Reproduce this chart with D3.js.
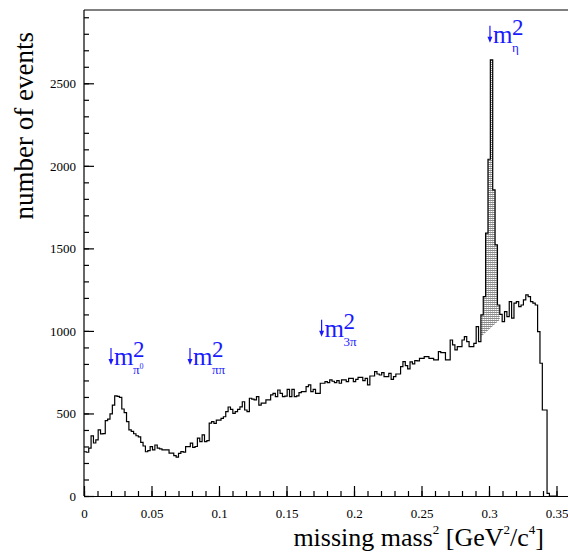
<!DOCTYPE html>
<html><head><meta charset="utf-8">
<script src="https://cdn.jsdelivr.net/npm/d3@7"></script>
<style>body{margin:0;background:#fff}svg{display:block}</style>
</head><body>
<svg id="chart" width="568" height="553"></svg>
<script>
// ---- data ----
const binWidth = 0.00175; // GeV^2/c^4
const counts = [
 268,265,290,364,321,340,400,376,378,456,466,497,551,606,603,598,527,505,450,400,392,377,365,358,325,303,268,275,299,279,309,290,285,
 279,279,279,260,260,245,236,258,269,266,299,299,320,295,300,351,329,370,329,335,442,450,440,460,460,470,480,511,539,525,501,511,525,540,571,
 521,511,592,587,582,602,551,562,562,582,582,612,622,602,642,622,602,605,646,602,646,602,606,626,632,632,662,673,632,646,622,622,683,683,
 693,687,703,695,687,699,683,703,703,693,713,713,693,707,719,719,699,713,673,727,727,753,739,733,747,723,723,743,707,723,739,739,784,814,
 790,770,812,800,820,818,
 834,834,844,844,834,834,824,824,874,868,868,824,824,945,915,885,905,905,945,965,935,905,905,925,1026,935,
 1097,1208,1592,2040,2642,1854,1521,1157,
 1100,1056,1117,1087,1177,1077,1168,1177,1147,1157,1188,1218,1208,1177,1168,1157,996,804,521,521,16,
 0,0,0
];
const xTicks = [0, 0.05, 0.1, 0.15, 0.2, 0.25, 0.3, 0.35];
const xTickLabels = ["0", "0.05", "0.1", "0.15", "0.2", "0.25", "0.3", "0.35"];
const yTicks = [0, 500, 1000, 1500, 2000, 2500];
const yTickLabels = ["0", "500", "1000", "1500", "2000", "2500"];
const peakBins = [168, 175];          // hatched eta signal bins
const bkgX = [0.294, 0.308];          // background line under the eta peak
const bkgY = [965, 1067];
const annX = [0.020, 0.0785, 0.176, 0.3007];
const annY = [794, 794, 965, 2745];
const annSub = ["π", "ππ", "3π", "η"];
const annSubSup = ["0", "", "", ""];

// ---- drawing ----
const svg = d3.select("#chart");
const font = "'Liberation Serif', 'Times New Roman', serif";
const blue = "#1a1aff";
const x = d3.scaleLinear().domain([0, 0.36]).range([84, 84 + 0.36 * 1350]);
const y = d3.scaleLinear().domain([0, 2944]).range([496, 10]);

const defs = svg.append("defs");
const pat = defs.append("pattern").attr("id", "hatch").attr("patternUnits", "userSpaceOnUse")
  .attr("width", 2).attr("height", 2);
pat.append("rect").attr("width", 2).attr("height", 1).attr("fill", "#8a8a8a");
pat.append("rect").attr("y", 1).attr("width", 1).attr("height", 1).attr("fill", "#c8c8c8");

// hatched eta signal
const hpts = [];
for (let i = peakBins[0]; i <= peakBins[1]; i++) {
  hpts.push([x(i * binWidth), y(counts[i])]);
  hpts.push([x((i + 1) * binWidth), y(counts[i])]);
}
hpts.push([x(bkgX[1]), y(bkgY[1])]);
hpts.push([x(bkgX[0]), y(bkgY[0])]);
svg.append("path").attr("d", "M" + hpts.map(p => p.join(",")).join("L") + "Z")
  .attr("fill", "url(#hatch)").attr("stroke", "none");

// histogram outline
const pts = counts.map((c, i) => [i * binWidth, c]);
pts.push([counts.length * binWidth, 0]);
svg.append("path").datum(pts)
  .attr("d", d3.line().x(d => x(d[0])).y(d => y(d[1])).curve(d3.curveStepAfter))
  .attr("fill", "none").attr("stroke", "#000").attr("stroke-width", 1.2);

// frame top
svg.append("line").attr("x1", x(0)).attr("x2", x(0.36)).attr("y1", y(2944)).attr("y2", y(2944))
  .attr("stroke", "#000").attr("stroke-width", 1.2);

// axes
const minorY = d3.range(0, 2944, 100);
const minorX = d3.range(0, 0.361, 0.01);
svg.append("g").attr("transform", `translate(${x(0)},0)`)
  .call(d3.axisLeft(y).tickValues(minorY).tickSize(-5).tickSizeOuter(0).tickFormat(""))
  .call(g => g.select(".domain").remove());
svg.append("g").attr("transform", `translate(0,${y(0)})`)
  .call(d3.axisBottom(x).tickValues(minorX).tickSize(-5).tickSizeOuter(0).tickFormat(""))
  .call(g => g.select(".domain").remove());

const ya = svg.append("g").attr("transform", `translate(${x(0)},0)`)
  .call(d3.axisLeft(y).tickValues(yTicks).tickSize(-10).tickSizeOuter(0).tickPadding(8)
    .tickFormat((d, i) => yTickLabels[i]));
const xa = svg.append("g").attr("transform", `translate(0,${y(0)})`)
  .call(d3.axisBottom(x).tickValues(xTicks).tickSize(-10).tickSizeOuter(0).tickPadding(13)
    .tickFormat((d, i) => xTickLabels[i]));
ya.select(".domain").attr("d", `M0,${y(0)}V${y(2944)}`);
svg.selectAll(".tick line, .domain").attr("stroke", "#000").attr("stroke-width", 1.2);
svg.selectAll(".tick text").attr("font-family", font).attr("font-size", 13).attr("fill", "#000");

// axis titles
const xt = svg.append("text").attr("x", 544).attr("y", 546).attr("text-anchor", "end")
  .attr("font-family", font).attr("font-size", 26).attr("fill", "#000");
xt.append("tspan").text("missing mass");
xt.append("tspan").attr("font-size", 13).attr("dy", -12).text("2");
xt.append("tspan").attr("dy", 12).text(" [GeV");
xt.append("tspan").attr("font-size", 13).attr("dy", -12).text("2");
xt.append("tspan").attr("dy", 12).text("/c");
xt.append("tspan").attr("font-size", 13).attr("dy", -12).text("4");
xt.append("tspan").attr("dy", 12).text("]");

svg.append("text").attr("transform", "translate(33,32) rotate(-90)").attr("text-anchor", "end")
  .attr("font-family", font).attr("font-size", 27).attr("fill", "#000").text("number of events");

// mass annotations
annX.forEach((mx, i) => {
  const ax = x(mx), ty = y(annY[i]);
  const g = svg.append("g").attr("fill", blue);
  g.append("line").attr("x1", ax).attr("x2", ax).attr("y1", ty - 17).attr("y2", ty - 5)
    .attr("stroke", blue).attr("stroke-width", 1.2);
  g.append("path").attr("d", `M${ax - 2.5},${ty - 6}L${ax + 2.5},${ty - 6}L${ax},${ty}Z`);
  g.append("text").attr("x", ax + 3).attr("y", ty).attr("font-family", font).attr("font-size", 25).text("m");
  g.append("text").attr("x", ax + 22).attr("y", ty - 8).attr("font-family", font).attr("font-size", 23).text("2");
  const s = g.append("text").attr("x", ax + 22).attr("y", ty + 9).attr("font-family", font).attr("font-size", 13);
  s.append("tspan").text(annSub[i]);
  if (annSubSup[i]) s.append("tspan").attr("font-size", 8).attr("dy", -5).text(annSubSup[i]);
});
</script>
</body></html>
